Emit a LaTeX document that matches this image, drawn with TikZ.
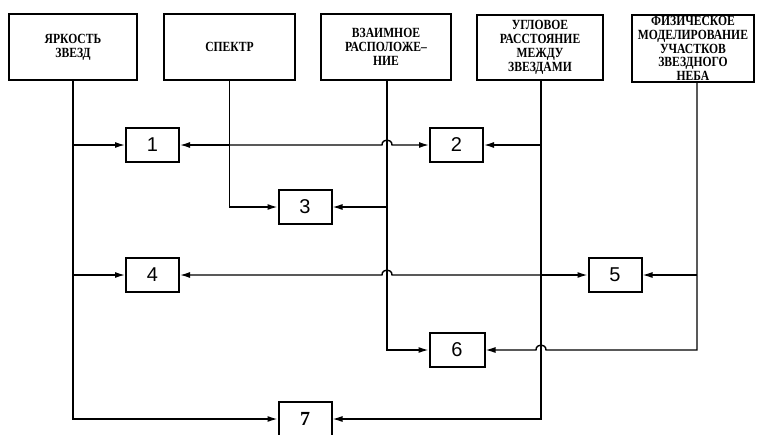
\documentclass[tikz,border=0pt]{standalone}
\usepackage{fontspec}
\setmainfont{Liberation Serif}
\setsansfont{Liberation Sans}
\newfontfamily\condserif[FakeStretch=0.83]{Liberation Serif}
\usetikzlibrary{arrows.meta,calc}
\begin{document}
\begin{tikzpicture}[x=1pt,y=-1pt,
  topbox/.style={draw,line width=2.4pt,inner sep=0pt,align=center,
    font=\condserif\bfseries\fontsize{14}{13.8}\selectfont},
  numbox/.style={draw,line width=2pt,inner sep=0pt,minimum width=53pt,minimum height=34pt,
    font=\sffamily\fontsize{20}{20}\selectfont},
  wire/.style={line width=1.4pt},
  arr/.style={wire,-{Latex[length=10pt,width=6pt]}}]
\useasboundingbox (0,0) rectangle (760,434);
% top boxes
\node[topbox,minimum width=128pt,minimum height=66pt] (A) at (73,47) {ЯРКОСТЬ\\ЗВЕЗД};
\node[topbox,minimum width=131pt,minimum height=66pt] (B) at (229.5,47) {СПЕКТР};
\node[topbox,minimum width=130pt,minimum height=66pt] (C) at (386,47) {ВЗАИМНОЕ\\РАСПОЛОЖЕ–\\НИЕ};
\node[topbox,minimum width=126pt,minimum height=65pt] (D) at (540,47.5) {УГЛОВОЕ\\РАССТОЯНИЕ\\МЕЖДУ\\ЗВЕЗДАМИ};
\node[topbox,minimum width=122pt,minimum height=67pt] (E) at (693,48.5) {ФИЗИЧЕСКОЕ\\МОДЕЛИРОВАНИЕ\\УЧАСТКОВ\\ЗВЕЗДНОГО\\НЕБА};
% numbered boxes
\node[numbox] (n1) at (152.5,145) {1};
\node[numbox] (n2) at (456.5,145) {2};
\node[numbox] (n3) at (305,207) {3};
\node[numbox] (n4) at (152.5,275) {4};
\node[numbox] (n5) at (615,275) {5};
\node[numbox,minimum width=55pt] (n6) at (457,350) {6};
\node[numbox,font=\bfseries\fontsize{20}{20}\selectfont] (n7) at (305,419) {7};
% vertical line positions
\coordinate (aX) at (A.south);
\coordinate (bX) at (B.south);
\coordinate (cX) at ($(C.south)+(1,0)$);
\coordinate (dX) at ($(D.south)+(1,0)$);
\coordinate (eX) at ($(E.south)+(4,0)$);
% brightness
\draw[arr] (aX) |- (n7.west);
\draw[arr] (aX |- n1) -- (n1.west);
\draw[arr] (aX |- n4) -- (n4.west);
% spectrum
\draw[arr] (bX) |- (n3.west);
\draw[arr] (bX |- n1) -- (n1.east);
\draw[arr] (bX |- n1) -- ($(cX |- n1)+(-5,0)$)
  .. controls +(0,-6.7) and +(0,-6.7) .. ($(cX |- n1)+(5,0)$) -- (n2.west);
% mutual position
\draw[arr] (cX) |- (n6.west);
\draw[arr] (cX |- n3) -- (n3.east);
% angular distance
\draw[arr] (dX) |- (n7.east);
\draw[arr] (dX |- n2) -- (n2.east);
\draw[arr] (dX |- n5) -- (n5.west);
\draw[arr] (dX |- n5) -- ($(cX |- n5)+(5,0)$)
  .. controls +(0,-6.7) and +(0,-6.7) .. ($(cX |- n5)+(-5,0)$) -- (n4.east);
% physical modelling
\draw[arr] (eX |- n5) -- (n5.east);
\draw[arr] (eX) |- ($(dX |- n6)+(5,0)$)
  .. controls +(0,-6.7) and +(0,-6.7) .. ($(dX |- n6)+(-5,0)$) -- (n6.east);
\end{tikzpicture}
\end{document}
